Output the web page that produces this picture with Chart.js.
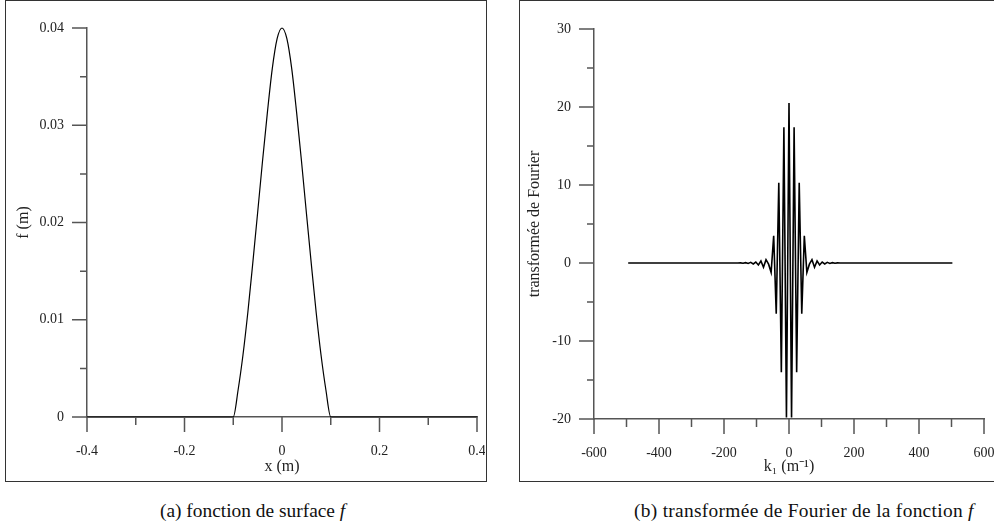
<!DOCTYPE html>
<html>
<head>
<meta charset="utf-8">
<script src="https://cdn.jsdelivr.net/npm/chart.js@4.4.1/dist/chart.umd.min.js"></script>
<style>
  html, body { margin: 0; padding: 0; background: #fff; }
  body { width: 994px; height: 531px; position: relative; overflow: hidden; font-family: "Liberation Serif", serif; }
  .frame { position: absolute; top: 0; height: 482px; border: 1px solid #333; box-sizing: border-box; }
  .plot { position: absolute; top: 1px; }
  .caption { position: absolute; top: 500px; font-size: 19.4px; color: #111; white-space: nowrap; }
  .caption i { font-style: italic; }
</style>
</head>
<body>
<div class="frame" style="left:5px;width:482px;"></div>
<div class="frame" style="left:519px;width:480px;"></div>
<div class="plot" style="left:6px;width:479px;height:479px;"><canvas id="surface"></canvas></div>
<div class="plot" style="left:520px;width:474px;height:479px;"><canvas id="fourier"></canvas></div>
<div class="caption" style="left:160px;">(a) fonction de surface <i>f</i></div>
<div class="caption" style="left:634px;letter-spacing:0.3px;">(b) transformée de Fourier de la fonction <i>f</i></div>

<script>
// (a) surface function f(x)
const xSurface = [-0.4, -0.1, -0.09, -0.08, -0.07, -0.06, -0.05, -0.04, -0.03, -0.02, -0.01, 0,
                  0.01, 0.02, 0.03, 0.04, 0.05, 0.06, 0.07, 0.08, 0.09, 0.1, 0.4];
const fSurface = [0, 0, 0.0028, 0.0064, 0.0108, 0.0158, 0.0210, 0.0263, 0.0313, 0.0358, 0.0389, 0.0400,
                  0.0389, 0.0358, 0.0313, 0.0263, 0.0210, 0.0158, 0.0108, 0.0064, 0.0028, 0, 0];

// (b) Fourier transform, sampled wavenumbers k1 (m^-1)
const kWave = [-494.8,
  -157.08, -149.23, -141.37, -133.52, -125.66, -117.81, -109.96, -102.10, -94.25, -86.39,
  -78.54, -70.69, -62.83, -54.98, -47.12, -39.27, -31.42, -23.56, -15.71, -7.85,
  0,
  7.85, 15.71, 23.56, 31.42, 39.27, 47.12, 54.98, 62.83, 70.69, 78.54,
  86.39, 94.25, 102.10, 109.96, 117.81, 125.66, 133.52, 141.37, 149.23, 157.08,
  502.7];
const tfValues = [0,
  0, 0.02, -0.03, 0.04, -0.06, 0.08, -0.12, 0.12, -0.25, 0.25,
  -0.55, 0.43, -0.15, -1.2, 3.5, -6.5, 10.3, -14.0, 17.4, -19.8,
  20.5,
  -19.8, 17.4, -14.0, 10.3, -6.5, 3.5, -1.2, -0.15, 0.43, -0.55,
  0.25, -0.25, 0.12, -0.12, 0.08, -0.06, 0.04, -0.03, 0.02, 0,
  0];

// tick values and labels
const xTicksA = [-0.4, -0.2, 0, 0.2, 0.4];
const xLabelsA = ['-0.4', '-0.2', '0', '0.2', '0.4'];
const xMinorA = [-0.3, -0.1, 0.1, 0.3];
const yTicksA = [0, 0.01, 0.02, 0.03, 0.04];
const yLabelsA = ['0', '0.01', '0.02', '0.03', '0.04'];
const yMinorA = [0.005, 0.015, 0.025, 0.035];

const xTicksB = [-600, -400, -200, 0, 200, 400, 600];
const xLabelsB = ['-600', '-400', '-200', '0', '200', '400', '600'];
const xMinorB = [-500, -300, -100, 100, 300, 500];
const yTicksB = [-20, -10, 0, 10, 20, 30];
const yLabelsB = ['-20', '-10', '0', '10', '20', '30'];
const yMinorB = [-15, -5, 5, 15, 25];

const axisGrey = '#555';
const tickFont = { family: 'Liberation Serif', size: 14 };
const titleFont = { family: 'Liberation Serif', size: 16 };

// outward tick marks, long for major and short for minor
const tickMarks = {
  id: 'tickMarks',
  afterDraw(chart, args, opts) {
    const { ctx } = chart;
    const x = chart.scales.x, y = chart.scales.y;
    const bottom = y.getPixelForValue(y.min);
    const left = x.getPixelForValue(x.min);
    ctx.save();
    ctx.strokeStyle = axisGrey;
    ctx.lineWidth = 1.5;
    ctx.beginPath();
    const xMark = (v, len) => { const p = x.getPixelForValue(v); ctx.moveTo(p, bottom); ctx.lineTo(p, bottom + len); };
    const yMark = (v, len) => { const p = y.getPixelForValue(v); ctx.moveTo(left, p); ctx.lineTo(left - len, p); };
    opts.xMajor.forEach(v => xMark(v, 15));
    opts.xMinor.forEach(v => xMark(v, 8));
    opts.yMajor.forEach(v => yMark(v, 15));
    opts.yMinor.forEach(v => yMark(v, 7));
    ctx.stroke();
    ctx.restore();
  }
};

function fixedAxis(size, isX) {
  return s => {
    if (isX) s.height = size; else s.width = size;
    s.paddingLeft = 0; s.paddingRight = 0; s.paddingTop = 0; s.paddingBottom = 0;
  };
}

function makeChart(id, xs, ys, cfg) {
  const points = xs.map((v, i) => ({ x: v, y: ys[i] }));
  return new Chart(id, {
    type: 'scatter',
    data: {
      datasets: [{
        data: points,
        showLine: true,
        borderColor: '#000',
        borderWidth: cfg.lineWidth,
        pointRadius: 0,
        cubicInterpolationMode: cfg.smooth ? 'monotone' : 'default',
        tension: 0,
        clip: false
      }]
    },
    options: {
      responsive: true,
      maintainAspectRatio: false,
      animation: false,
      events: [],
      layout: { padding: { top: cfg.top, right: cfg.right, left: 0, bottom: 0 } },
      plugins: {
        legend: { display: false },
        tooltip: { enabled: false },
        tickMarks: { xMajor: cfg.xTicks, xMinor: cfg.xMinor, yMajor: cfg.yTicks, yMinor: cfg.yMinor }
      },
      scales: {
        x: {
          type: 'linear',
          min: cfg.xTicks[0], max: cfg.xTicks[cfg.xTicks.length - 1],
          afterBuildTicks: s => { s.ticks = cfg.xTicks.map(v => ({ value: v })); },
          afterFit: fixedAxis(cfg.xHeight, true),
          grid: { display: false, drawTicks: false },
          border: { display: true, color: axisGrey, width: 1.5 },
          ticks: {
            color: '#222', font: tickFont, padding: 26, maxRotation: 0, autoSkip: false,
            callback: (v, i) => cfg.xLabels[i]
          },
          title: { display: true, text: cfg.xTitle, color: '#222', font: titleFont, padding: { bottom: cfg.xTitlePad, top: 0 } }
        },
        y: {
          type: 'linear',
          min: cfg.yTicks[0], max: cfg.yTicks[cfg.yTicks.length - 1],
          afterBuildTicks: s => { s.ticks = cfg.yTicks.map(v => ({ value: v })); },
          afterFit: fixedAxis(cfg.yWidth, false),
          grid: { display: false, drawTicks: false },
          border: { display: true, color: axisGrey, width: 1.5 },
          ticks: {
            color: '#222', font: tickFont, padding: 23, autoSkip: false,
            callback: (v, i) => cfg.yLabels[i]
          },
          title: { display: true, text: cfg.yTitle, color: '#222', font: titleFont, padding: { top: cfg.yTitlePad, bottom: 0 } }
        }
      }
    },
    plugins: [tickMarks]
  });
}

makeChart('surface', xSurface, fSurface, {
  lineWidth: 1.2, smooth: true,
  top: 27, right: 8, xHeight: 63, yWidth: 81,
  xTicks: xTicksA, xLabels: xLabelsA, xMinor: xMinorA,
  yTicks: yTicksA, yLabels: yLabelsA, yMinor: yMinorA,
  xTitle: 'x (m)', yTitle: 'f (m)', xTitlePad: 4, yTitlePad: 8
});

makeChart('fourier', kWave, tfValues, {
  lineWidth: 1.6, smooth: false,
  top: 28, right: 10, xHeight: 61, yWidth: 74,
  xTicks: xTicksB, xLabels: xLabelsB, xMinor: xMinorB,
  yTicks: yTicksB, yLabels: yLabelsB, yMinor: yMinorB,
  xTitle: 'k\u2081 (m\u207B\u00B9)', yTitle: 'transformée de Fourier', xTitlePad: 4, yTitlePad: 5
});
</script>
</body>
</html>
